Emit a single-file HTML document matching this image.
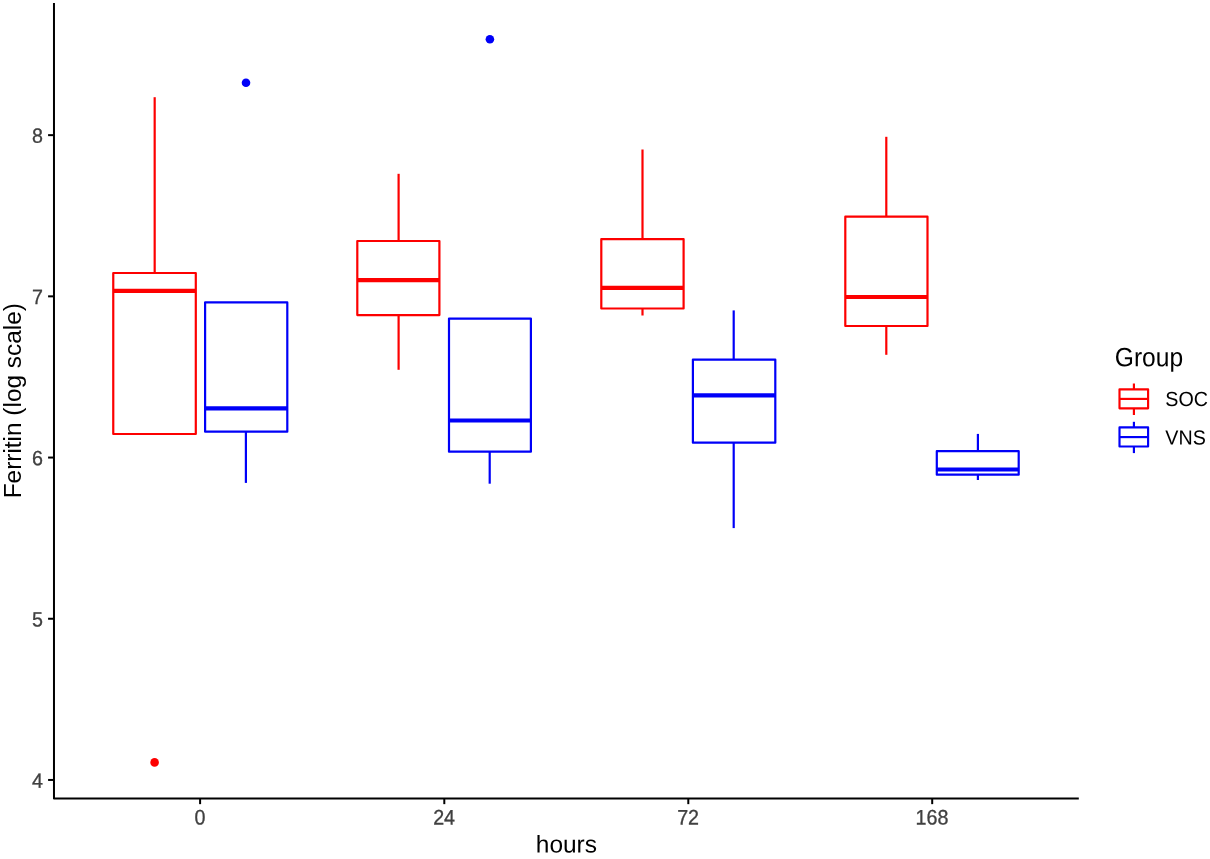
<!DOCTYPE html><html><head><meta charset="utf-8"><style>html,body{margin:0;padding:0;background:#fff;overflow:hidden}svg{display:block}text{font-family:"Liberation Sans",sans-serif}</style></head><body><svg width="1210" height="859" viewBox="0 0 1210 859">
<rect width="1210" height="859" fill="#fff"/>
<line x1="154.68" x2="154.68" y1="97.2" y2="272.98" stroke="#fd0000" stroke-width="2.2"/>
<rect x="113.26" y="272.98" width="82.54" height="161.02" fill="#fff" stroke="#fd0000" stroke-width="2.2" stroke-linejoin="round"/>
<line x1="113.26" x2="195.80" y1="290.85" y2="290.85" stroke="#fd0000" stroke-width="4.2"/>
<line x1="245.9" x2="245.9" y1="431.7" y2="482.9" stroke="#0000f8" stroke-width="2.2"/>
<rect x="205.10" y="302.40" width="82.20" height="129.30" fill="#fff" stroke="#0000f8" stroke-width="2.2" stroke-linejoin="round"/>
<line x1="205.10" x2="287.30" y1="408.3" y2="408.3" stroke="#0000f8" stroke-width="4.2"/>
<line x1="398.6" x2="398.6" y1="173.8" y2="241.0" stroke="#fd0000" stroke-width="2.2"/>
<line x1="398.6" x2="398.6" y1="315.1" y2="369.8" stroke="#fd0000" stroke-width="2.2"/>
<rect x="357.30" y="241.00" width="82.10" height="74.10" fill="#fff" stroke="#fd0000" stroke-width="2.2" stroke-linejoin="round"/>
<line x1="357.30" x2="439.40" y1="280.1" y2="280.1" stroke="#fd0000" stroke-width="4.2"/>
<line x1="489.7" x2="489.7" y1="451.7" y2="483.7" stroke="#0000f8" stroke-width="2.2"/>
<rect x="449.00" y="318.60" width="81.90" height="133.10" fill="#fff" stroke="#0000f8" stroke-width="2.2" stroke-linejoin="round"/>
<line x1="449.00" x2="530.90" y1="420.5" y2="420.5" stroke="#0000f8" stroke-width="4.2"/>
<line x1="642.5" x2="642.5" y1="149.5" y2="239.1" stroke="#fd0000" stroke-width="2.2"/>
<line x1="642.5" x2="642.5" y1="308.5" y2="315.5" stroke="#fd0000" stroke-width="2.2"/>
<rect x="601.30" y="239.10" width="82.30" height="69.40" fill="#fff" stroke="#fd0000" stroke-width="2.2" stroke-linejoin="round"/>
<line x1="601.30" x2="683.60" y1="287.8" y2="287.8" stroke="#fd0000" stroke-width="4.2"/>
<line x1="733.7" x2="733.7" y1="310.4" y2="359.6" stroke="#0000f8" stroke-width="2.2"/>
<line x1="733.7" x2="733.7" y1="442.7" y2="528.1" stroke="#0000f8" stroke-width="2.2"/>
<rect x="692.90" y="359.60" width="82.40" height="83.10" fill="#fff" stroke="#0000f8" stroke-width="2.2" stroke-linejoin="round"/>
<line x1="692.90" x2="775.30" y1="395.4" y2="395.4" stroke="#0000f8" stroke-width="4.2"/>
<line x1="886.3" x2="886.3" y1="136.8" y2="216.7" stroke="#fd0000" stroke-width="2.2"/>
<line x1="886.3" x2="886.3" y1="326.0" y2="354.8" stroke="#fd0000" stroke-width="2.2"/>
<rect x="845.30" y="216.70" width="82.20" height="109.30" fill="#fff" stroke="#fd0000" stroke-width="2.2" stroke-linejoin="round"/>
<line x1="845.30" x2="927.50" y1="297.0" y2="297.0" stroke="#fd0000" stroke-width="4.2"/>
<line x1="977.9" x2="977.9" y1="433.9" y2="451.2" stroke="#0000f8" stroke-width="2.2"/>
<line x1="977.9" x2="977.9" y1="474.7" y2="480.0" stroke="#0000f8" stroke-width="2.2"/>
<rect x="936.80" y="451.20" width="81.90" height="23.50" fill="#fff" stroke="#0000f8" stroke-width="2.2" stroke-linejoin="round"/>
<line x1="936.80" x2="1018.70" y1="469.5" y2="469.5" stroke="#0000f8" stroke-width="4.2"/>
<circle cx="154.6" cy="762.4" r="4.3" fill="#fd0000"/>
<circle cx="246" cy="82.8" r="4.3" fill="#0000f8"/>
<circle cx="489.9" cy="39.3" r="4.3" fill="#0000f8"/>
<polyline points="53.98,2.9 53.98,798.45 1078.8,798.45" fill="none" stroke="#000" stroke-width="2" stroke-linejoin="round"/>
<line x1="48.08" x2="53.98" y1="779.95" y2="779.95" stroke="#000" stroke-width="2"/>
<text transform="translate(43,787.65) rotate(0.05) scale(1,1.047)" font-size="19.7" fill="#404040" stroke="#404040" stroke-width="0.3" text-anchor="end">4</text>
<line x1="48.08" x2="53.98" y1="618.75" y2="618.75" stroke="#000" stroke-width="2"/>
<text transform="translate(43,626.45) rotate(0.05) scale(1,1.047)" font-size="19.7" fill="#404040" stroke="#404040" stroke-width="0.3" text-anchor="end">5</text>
<line x1="48.08" x2="53.98" y1="457.55" y2="457.55" stroke="#000" stroke-width="2"/>
<text transform="translate(43,465.25) rotate(0.05) scale(1,1.047)" font-size="19.7" fill="#404040" stroke="#404040" stroke-width="0.3" text-anchor="end">6</text>
<line x1="48.08" x2="53.98" y1="296.35" y2="296.35" stroke="#000" stroke-width="2"/>
<text transform="translate(43,304.05) rotate(0.05) scale(1,1.047)" font-size="19.7" fill="#404040" stroke="#404040" stroke-width="0.3" text-anchor="end">7</text>
<line x1="48.08" x2="53.98" y1="135.15" y2="135.15" stroke="#000" stroke-width="2"/>
<text transform="translate(43,142.85) rotate(0.05) scale(1,1.047)" font-size="19.7" fill="#404040" stroke="#404040" stroke-width="0.3" text-anchor="end">8</text>
<line x1="200.1" x2="200.1" y1="798.45" y2="804.1500000000001" stroke="#000" stroke-width="2"/>
<text transform="translate(199.90,824.4) rotate(0.05) scale(1,1.065)" font-size="19.7" fill="#404040" stroke="#404040" stroke-width="0.3" text-anchor="middle">0</text>
<line x1="444.3" x2="444.3" y1="798.45" y2="804.1500000000001" stroke="#000" stroke-width="2"/>
<text transform="translate(444.10,824.4) rotate(0.05) scale(1,1.065)" font-size="19.7" fill="#404040" stroke="#404040" stroke-width="0.3" text-anchor="middle">24</text>
<line x1="688.3" x2="688.3" y1="798.45" y2="804.1500000000001" stroke="#000" stroke-width="2"/>
<text transform="translate(688.10,824.4) rotate(0.05) scale(1,1.065)" font-size="19.7" fill="#404040" stroke="#404040" stroke-width="0.3" text-anchor="middle">72</text>
<line x1="932.2" x2="932.2" y1="798.45" y2="804.1500000000001" stroke="#000" stroke-width="2"/>
<text transform="translate(932.00,824.4) rotate(0.05) scale(1,1.065)" font-size="19.7" fill="#404040" stroke="#404040" stroke-width="0.3" text-anchor="middle">168</text>
<text transform="translate(566.4,852.5) rotate(0.05) scale(1,0.99)" font-size="24.5" fill="#000" text-anchor="middle">hours</text>
<text transform="translate(21,400.7) rotate(-90)" font-size="24.4" fill="#000" text-anchor="middle">Ferritin (log scale)</text>
<text transform="translate(1114.8,366.3) rotate(0.05) scale(1,1.075)" font-size="24.6" fill="#000">Group</text>
<line x1="1133.9" x2="1133.9" y1="383.5" y2="389.3" stroke="#fd0000" stroke-width="2.15"/>
<line x1="1133.9" x2="1133.9" y1="408.3" y2="415.0" stroke="#fd0000" stroke-width="2.15"/>
<rect x="1119.50" y="389.30" width="28.60" height="19.00" fill="#fff" stroke="#fd0000" stroke-width="2.15" stroke-linejoin="round"/>
<line x1="1119.50" x2="1148.10" y1="398.9" y2="398.9" stroke="#fd0000" stroke-width="2.15"/>
<line x1="1133.9" x2="1133.9" y1="421.8" y2="427.4" stroke="#0000f8" stroke-width="2.15"/>
<line x1="1133.9" x2="1133.9" y1="446.5" y2="453.1" stroke="#0000f8" stroke-width="2.15"/>
<rect x="1119.50" y="427.40" width="28.60" height="19.10" fill="#fff" stroke="#0000f8" stroke-width="2.15" stroke-linejoin="round"/>
<line x1="1119.50" x2="1148.10" y1="437.1" y2="437.1" stroke="#0000f8" stroke-width="2.15"/>
<text transform="translate(1165.3,406.1) rotate(0.05) scale(1,1.04)" font-size="19.7" fill="#000">SOC</text>
<text transform="translate(1165.3,444.4) rotate(0.05) scale(1,1.04)" font-size="19.7" fill="#000">VNS</text>
</svg></body></html>
